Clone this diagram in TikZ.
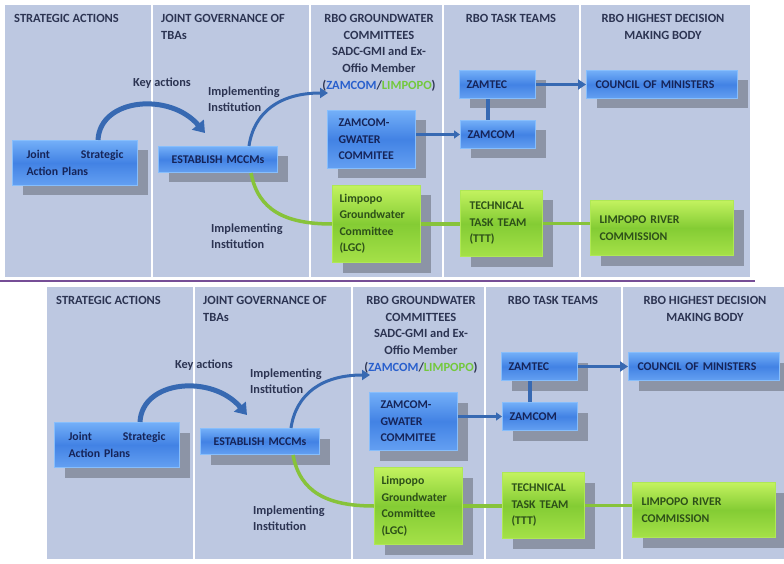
\documentclass[tikz,border=0pt]{standalone}
\usepackage{fontspec}
\setmainfont{Carlito}
\usetikzlibrary{shadows,arrows.meta}
\definecolor{panel}{RGB}{189,200,225}
\definecolor{hdrtext}{RGB}{44,52,82}
\definecolor{btop}{RGB}{115,175,248}
\definecolor{bmid}{RGB}{66,130,228}
\definecolor{bbot}{RGB}{100,160,242}
\definecolor{bborder}{RGB}{135,190,252}
\definecolor{btext}{RGB}{22,36,88}
\definecolor{gtop}{RGB}{195,242,95}
\definecolor{gmid}{RGB}{132,204,52}
\definecolor{gbot}{RGB}{165,225,72}
\definecolor{gborder}{RGB}{175,232,85}
\definecolor{gtext}{RGB}{45,80,25}
\definecolor{barrow}{RGB}{55,105,178}
\definecolor{glink}{RGB}{135,195,58}
\definecolor{zblue}{RGB}{40,95,205}
\definecolor{lgreen}{RGB}{115,200,60}
\definecolor{purpleline}{RGB}{118,78,150}
\tikzset{
  hdr/.style={font=\fontsize{12.5}{16.7}\selectfont\bfseries, text=hdrtext, inner sep=0pt},
  lbl/.style={font=\fontsize{12.3}{15.5}\selectfont\bfseries, text=hdrtext, inner sep=0pt, align=left},
  boxbase/.style={anchor=north west, inner ysep=2pt, align=left,
    font=\fontsize{11.8}{16.5}\selectfont\bfseries, line width=1pt,
    drop shadow={shadow xshift=10pt, shadow yshift=-10pt, opacity=0.26, fill=black}},
  bluebox/.style={boxbase, draw=bborder, top color=btop, bottom color=bbot, middle color=bmid, text=btext},
  greenbox/.style={boxbase, draw=gborder, top color=gtop, bottom color=gbot, middle color=gmid, text=gtext},
  sepline/.style={draw=white, line width=1.3pt},
  bluearrow/.style={draw=barrow, line width=3pt, -{Triangle[width=10pt,length=8pt]}},
  greenlink/.style={draw=glink, line width=3.5pt},
}
\newcommand{\onediagram}{%
  \fill[panel] (5,5) rectangle (750,277);
  \foreach \xx in {152,310,443,580} {\draw[sepline] (\xx,5) -- (\xx,277);}
  \node[hdr, anchor=west] (h1) at (14,18) {STRATEGIC ACTIONS};
  \node[hdr, anchor=north west, align=left] (h2) at (161,14) {JOINT GOVERNANCE OF\\TBAs};
  \node[hdr, anchor=north, align=center] (h3) at (379,14) {RBO GROUNDWATER\\COMMITTEES\\SADC-GMI and Ex-\\Offio Member\\(\textcolor{zblue}{ZAMCOM}/\textcolor{lgreen}{LIMPOPO})};
  \node[hdr, anchor=north, align=center] (h4) at (511,14) {RBO TASK TEAMS};
  \node[hdr, anchor=north, align=center] (h5) at (663,14) {RBO HIGHEST DECISION\\MAKING BODY};
  % boxes
  \node[bluebox, minimum height=45pt, text width=97pt, inner xsep=14pt] (jsap) at (12,140) {Joint\hfill Strategic\\Action Plans};
  \node[bluebox, minimum height=26pt, text width=107pt, inner xsep=6pt, align=center] (estab) at (158,146) {ESTABLISH MCCMs};
  \node[bluebox, minimum height=58pt, text width=66pt, inner xsep=11pt] (zgw) at (327,110) {ZAMCOM-\\GWATER\\COMMITEE};
  \node[greenbox, minimum height=77pt, text width=74pt, inner xsep=7pt] (lgc) at (332,185) {Limpopo\\Groundwater\\Committee\\(LGC)};
  \node[bluebox, minimum height=28pt, text width=62pt, inner xsep=7pt] (zamtec) at (459,70) {ZAMTEC};
  \node[bluebox, minimum height=28pt, text width=61pt, inner xsep=7pt] (zamcom) at (460,120) {ZAMCOM};
  \node[bluebox, minimum height=28pt, text width=133pt, inner xsep=9pt] (council) at (586,70) {COUNCIL OF MINISTERS};
  \node[greenbox, minimum height=66pt, text width=64pt, inner xsep=9pt] (ttt) at (460,190) {TECHNICAL\\TASK TEAM\\(TTT)};
  \node[greenbox, minimum height=55pt, text width=125pt, inner xsep=9pt] (lrc) at (590,200) {LIMPOPO RIVER\\COMMISSION};
  % labels
  \node[lbl, anchor=center] (ka) at (162,83) {Key actions};
  \node[lbl, anchor=north west] (ii1) at (208,87) {Implementing\\Institution};
  \node[lbl, anchor=north west] (ii2) at (211,224) {Implementing\\Institution};
  \coordinate (zend) at (328,93);
  % connectors
  \draw[bluearrow, line width=5pt, -{Triangle[width=15pt,length=11pt]}]
    ([xshift=23pt]jsap.north) .. controls (100,98) and (170,92) .. ([xshift=47pt,yshift=13pt]estab.north west);
  \draw[bluearrow] ([xshift=-29pt]estab.north east) .. controls (254,112) and (280,93) .. (zend);
  \draw[greenlink] ([xshift=-27pt]estab.south east) .. controls (258,210) and (285,224) .. (lgc.west);
  \draw[bluearrow, line width=2.5pt, -{Triangle[width=8pt,length=6pt]}] (zgw.east |- zamcom.west) -- (zamcom.west);
  \draw[draw=barrow, line width=3.5pt] ([xshift=-10pt]zamcom.north) -- ([xshift=-10pt]zamcom.north |- zamtec.south);
  \draw[bluearrow] (zamtec.east) -- (council.west);
  \draw[greenlink] (lgc.east) -- (lgc.east -| ttt.west);
  \draw[greenlink] (ttt.east) -- (ttt.east -| lrc.west);
}
\begin{document}
\begin{tikzpicture}[x=1pt,y=-1pt]
  \useasboundingbox (0,0) rectangle (784,564);
  \fill[white] (0,0) rectangle (784,564);
  \begin{scope}[name prefix=t-]
    \onediagram
  \end{scope}
  \draw[draw=purpleline, line width=2pt] (0,281) -- (755,281);
  \begin{scope}[shift={(42,282)}, name prefix=b-]
    \onediagram
  \end{scope}
\end{tikzpicture}
\end{document}
